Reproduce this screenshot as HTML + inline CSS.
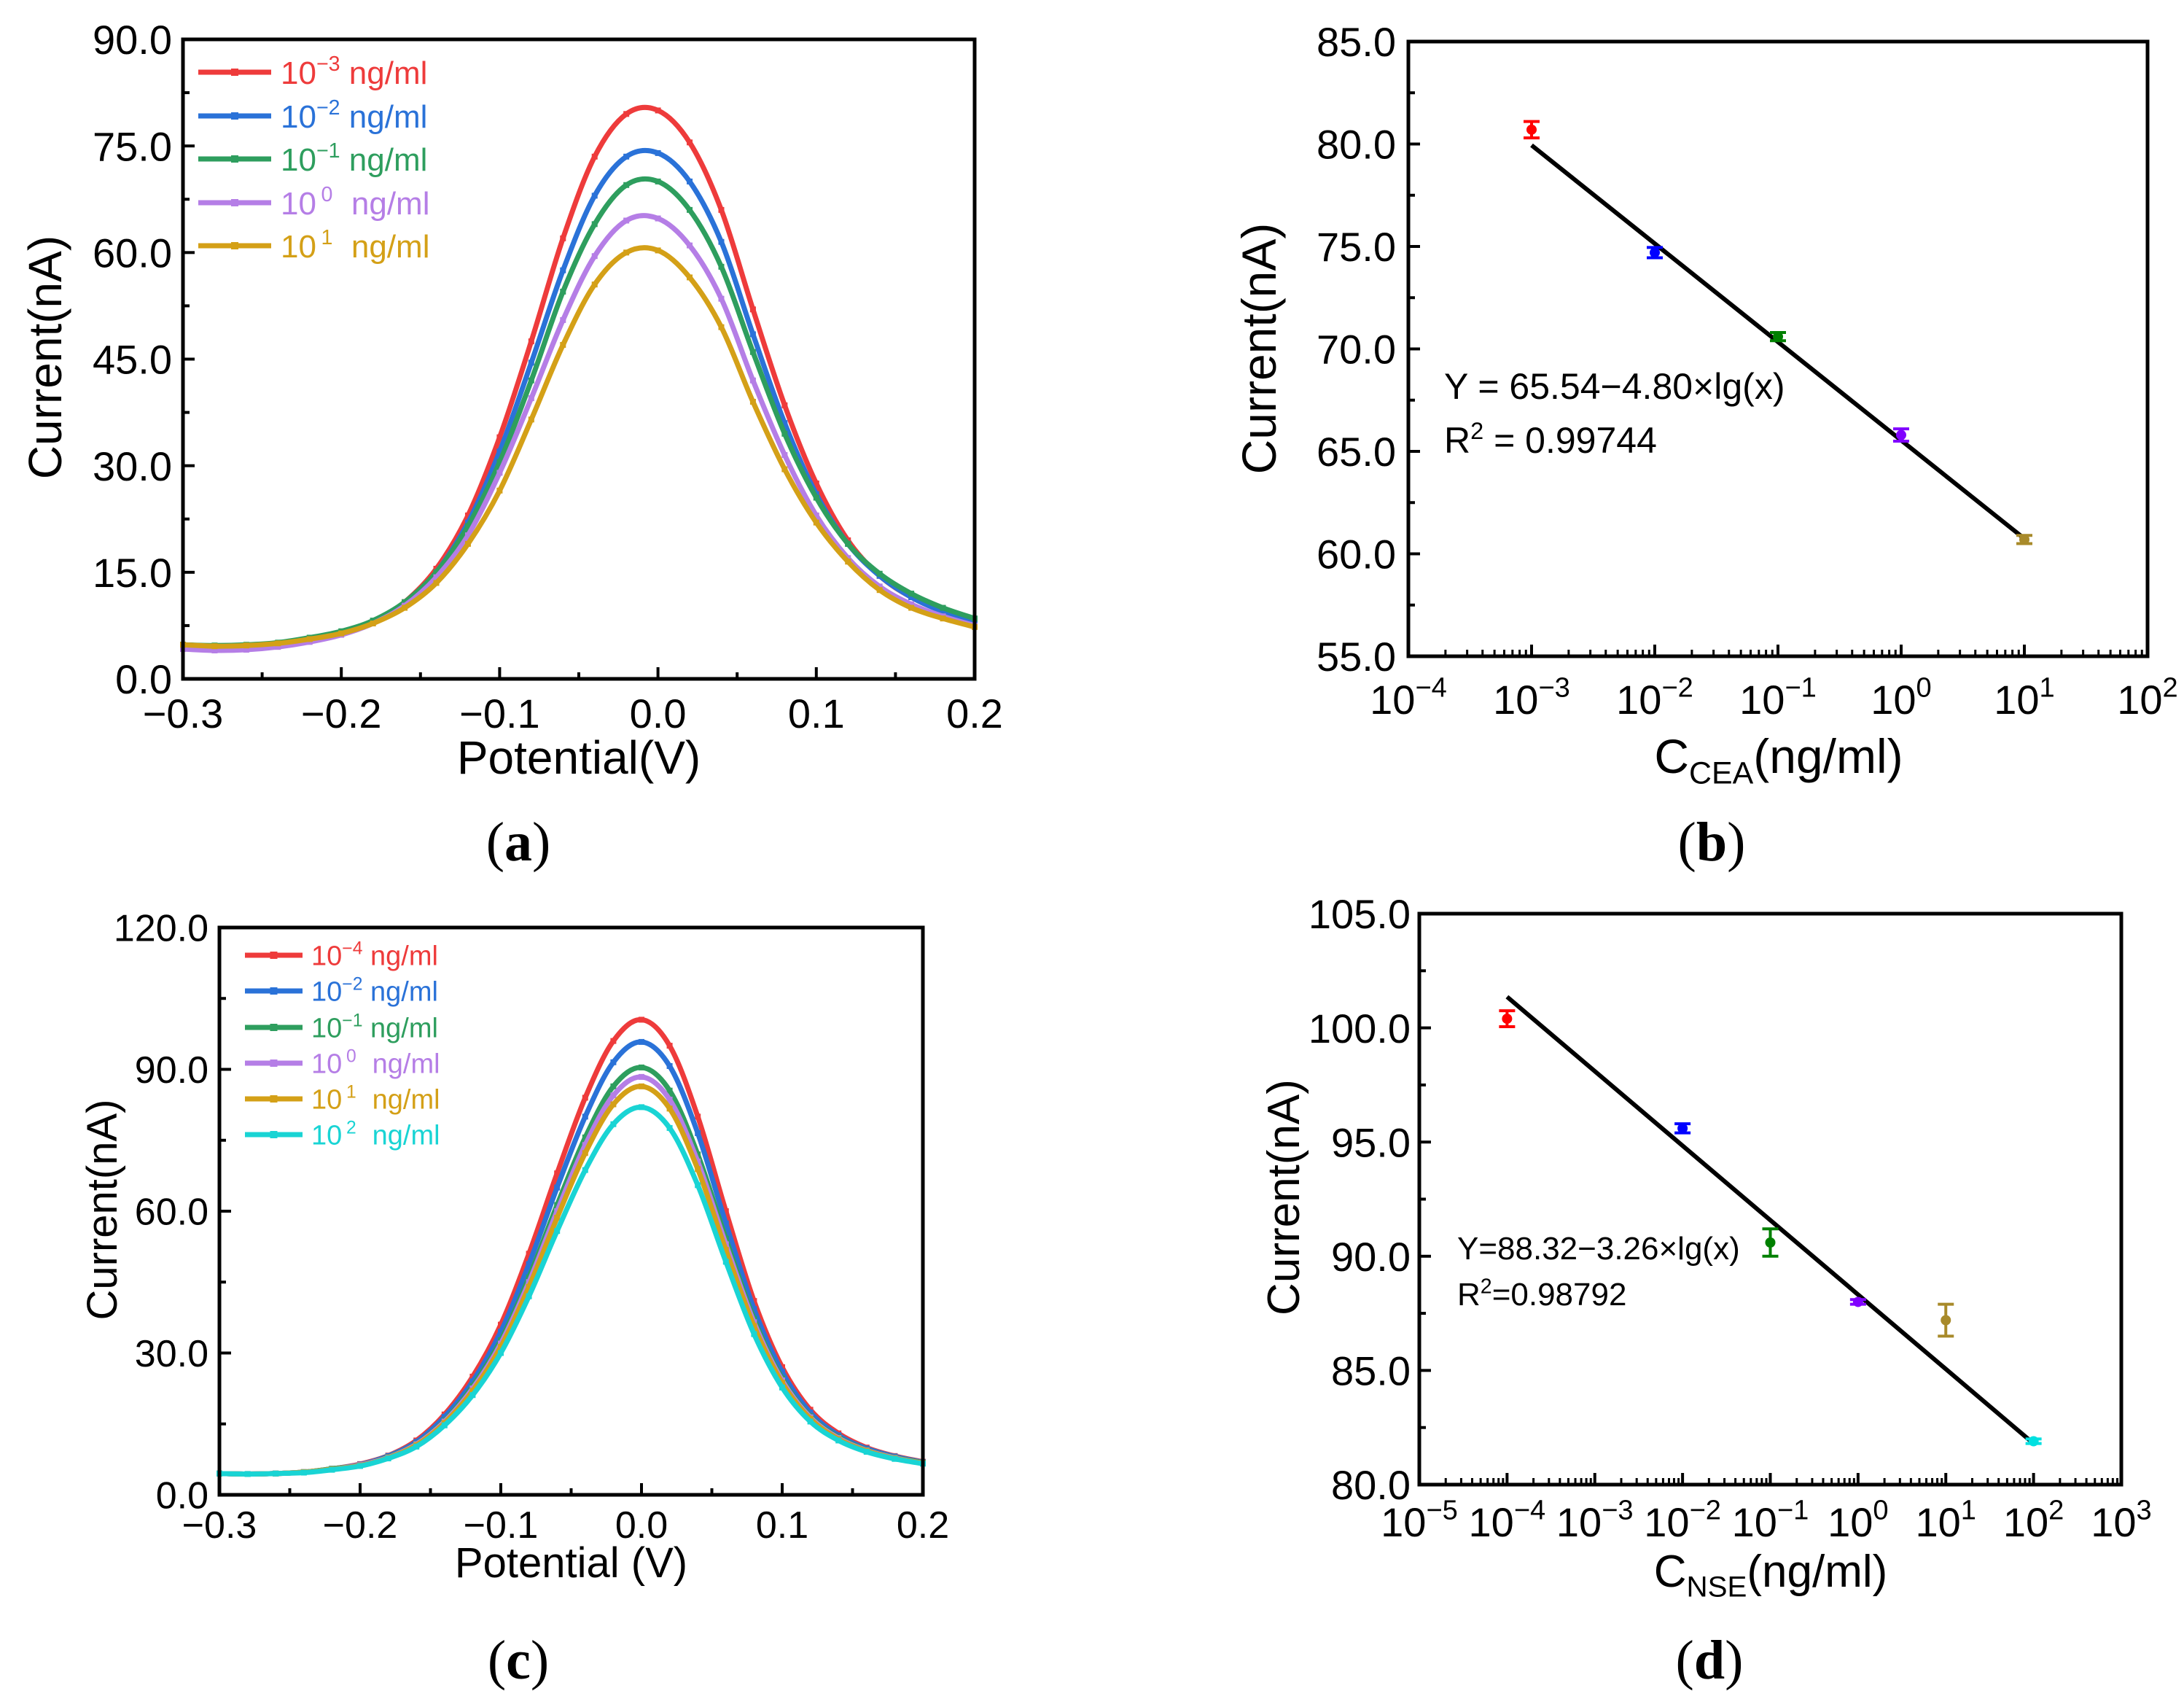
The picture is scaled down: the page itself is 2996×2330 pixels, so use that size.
<!DOCTYPE html>
<html><head><meta charset="utf-8"><style>
html,body{margin:0;padding:0;background:#fff;}
svg{display:block;}
text{font-family:"Liberation Sans",sans-serif;fill:#000;}
.cap{font-family:"Liberation Serif",serif;}
</style></head><body>
<svg id="fig" width="2996" height="2330" viewBox="0 0 2996 2330" xmlns="http://www.w3.org/2000/svg"></svg>
<script>
// ---------- data ----------
const potA = [-0.30,-0.28,-0.26,-0.24,-0.22,-0.20,-0.18,-0.16,-0.14,-0.12,-0.10,-0.08,-0.06,-0.04,-0.02,0.00,0.02,0.04,0.06,0.08,0.10,0.12,0.14,0.16,0.18,0.20];
const aRed = [4.8,4.6,4.7,5.0,5.6,6.5,8.0,10.8,15.5,23,34,47.5,62,73.5,79.5,80,75.5,66,52,38.5,27.5,19.5,14.5,11.5,9.5,8.0];
const aBlue = [4.8,4.6,4.7,5.0,5.6,6.5,8.0,10.6,15,22,32,44.5,57.5,68,73.5,74,70,61.5,48.5,36,26,19,14.5,11.5,9.5,8.2];
const aGreen = [4.8,4.7,4.8,5.1,5.8,6.7,8.2,10.8,15,21.5,30.5,42,54.5,64,69.5,70,66,58,46,34.5,25.5,19,14.8,12,10,8.5];
const aPurple = [4.2,4.0,4.1,4.5,5.2,6.2,7.8,10.3,14.3,20.2,29,39.5,50.5,59.5,64.5,64.8,61,53.5,42,31.5,23,17,13,10.5,8.8,7.5];
const aGold = [4.8,4.6,4.7,5.0,5.6,6.4,7.8,10.0,13.5,19,26.5,36.5,47,55.5,60,60.3,56.5,49.5,39,29.5,22,16.5,12.5,10,8.5,7.3];
const aLabels = ["−3","−2","−1","0","1"];

const potC = potA;
const cRed = [4.5,4.4,4.5,4.8,5.5,6.5,8.3,11.5,17,25,36,51,68,84,96,100.5,95,80,60,41,27,18,13,10,8.2,7.0];
const cBlue = [4.5,4.4,4.5,4.8,5.5,6.4,8.2,11.2,16.5,24,34.5,48.8,65,80,91.5,95.8,90.7,76.5,57.4,39.3,26,17.4,12.6,9.8,8.1,6.9];
const cGreen = [4.5,4.4,4.5,4.8,5.5,6.3,8.0,10.8,15.7,23,32.7,46,61.3,75.6,86.4,90.4,85.5,72,54.2,37.2,24.6,16.6,12.2,9.5,7.9,6.8];
const cPurple = [4.5,4.4,4.5,4.8,5.4,6.3,7.9,10.7,15.5,22.5,32,45,60,74,84.5,88.4,83.6,70.5,53,36.5,24.2,16.4,12,9.4,7.8,6.7];
const cGold = [4.5,4.4,4.5,4.8,5.4,6.2,7.8,10.5,15.2,22,31.3,44,58.6,72.3,82.6,86.4,81.7,68.9,51.8,35.7,23.7,16.1,11.8,9.3,7.7,6.7];
const cCyan = [4.5,4.4,4.5,4.7,5.3,6.1,7.7,10.2,14.7,21.1,30,42,55.8,68.7,78.4,82,77.6,65.5,49.3,34,22.7,15.5,11.5,9.1,7.6,6.6];
const cLabels = ["−4","−2","−1","0","1","2"];

const bConc = [1e-3,1e-2,1e-1,1,10];
const bCurrent = [80.7,74.7,70.6,65.8,60.7];
const bErr = [0.4,0.25,0.2,0.3,0.2];
const bIntercept = 65.54, bSlope = -4.80;
const dConc = [1e-4,1e-2,1e-1,1,10,100];
const dCurrent = [100.4,95.6,90.6,88.0,87.2,81.9];
const dErr = [0.35,0.2,0.6,0.1,0.7,0.1];
const dIntercept = 88.32, dSlope = -3.26;

const xTicksLin = [-0.3,-0.2,-0.1,0.0,0.1,0.2];
const aYTicks = [0,15,30,45,60,75,90];
const cYTicks = [0,30,60,90,120];
const bYTicks = [55,60,65,70,75,80,85];
const dYTicks = [80,85,90,95,100,105];
const bXExp = [-4,-3,-2,-1,0,1,2];
const dXExp = [-5,-4,-3,-2,-1,0,1,2,3];

// ---------- helpers ----------
const NS="http://www.w3.org/2000/svg";
const svg=document.getElementById('fig');
function mk(tag,attrs,parent){const e=document.createElementNS(NS,tag);for(const k in attrs)e.setAttribute(k,attrs[k]);(parent||svg).appendChild(e);return e;}
function grp(name){const g=mk('g',{});


return g;}
function txt(g,x,y,s,size,anchor,name){const t=mk('text',{x:x,y:y,'font-size':size,'text-anchor':anchor||'start'},g);t.textContent=s;


return t;}
function smoothPath(pts){let d='M'+pts[0][0]+','+pts[0][1];for(let i=0;i<pts.length-1;i++){const p0=pts[i-1]||pts[i],p1=pts[i],p2=pts[i+1],p3=pts[i+2]||p2;
const c1x=p1[0]+(p2[0]-p0[0])/6,c1y=p1[1]+(p2[1]-p0[1])/6,c2x=p2[0]-(p3[0]-p1[0])/6,c2y=p2[1]-(p3[1]-p1[1])/6;
d+=' C'+c1x.toFixed(1)+','+c1y.toFixed(1)+' '+c2x.toFixed(1)+','+c2y.toFixed(1)+' '+p2[0].toFixed(1)+','+p2[1].toFixed(1);}return d;}

function frame(g,L,R,T,B){const r=mk('rect',{x:L,y:T,width:R-L,height:B-T,fill:'none',stroke:'#000','stroke-width':5},g);

}

function linPanel(o){
  const g=grp(o.name);
  const X=v=>o.L+(v-o.x0)/(o.x1-o.x0)*(o.R-o.L);
  const Y=v=>o.B-(v-o.y0)/(o.y1-o.y0)*(o.B-o.T);
  xTicksLin.forEach((v,i)=>{mk('line',{x1:X(v),x2:X(v),y1:o.B,y2:o.B-16,stroke:'#000','stroke-width':4},g);
    if(i<xTicksLin.length-1){const m=X(v+0.05);mk('line',{x1:m,x2:m,y1:o.B,y2:o.B-9,stroke:'#000','stroke-width':4},g);}
    txt(g,X(v),o.xlb,(v<0?'−':'')+Math.abs(v).toFixed(1),o.fs,'middle','x-tick-label');});
  o.yt.forEach((v,i)=>{mk('line',{x1:o.L,x2:o.L+16,y1:Y(v),y2:Y(v),stroke:'#000','stroke-width':4},g);
    if(i<o.yt.length-1){const m=Y(v+(o.yt[1]-o.yt[0])/2);mk('line',{x1:o.L,x2:o.L+9,y1:m,y2:m,stroke:'#000','stroke-width':4},g);}
    txt(g,o.ylr,Y(v)+o.fs*0.36,v.toFixed(1),o.fs,'end','y-tick-label');});
  o.series.forEach((s,k)=>{const pts=o.xs.map((x,i)=>[X(x),Y(s.v[i])]);
    const p=mk('path',{d:smoothPath(pts),fill:'none',stroke:s.c,'stroke-width':7,'stroke-linejoin':'round'},g);
    
    
    pts.forEach(q=>mk('rect',{x:q[0]-4,y:q[1]-4,width:8,height:8,fill:s.c},g));
    const ly=o.leg.y[k];
    const ll=mk('line',{x1:o.leg.x1,x2:o.leg.x2,y1:ly,y2:ly,stroke:s.c,'stroke-width':7},g);
    
    
    mk('rect',{x:(o.leg.x1+o.leg.x2)/2-5,y:ly-5,width:10,height:10,fill:s.c},g);
    const t=mk('text',{x:o.leg.tx,y:ly+o.leg.fs*0.36,'font-size':o.leg.fs,fill:s.c},g);
    
    
    t.style.fill=s.c;
    const a=mk('tspan',{},t);a.textContent='10';
    const b=mk('tspan',{dy:-o.leg.fs*0.4,dx:s.e.length<2?o.leg.fs*0.15:0,'font-size':o.leg.fs*0.65},t);b.textContent=s.e;
    const c=mk('tspan',{dy:o.leg.fs*0.4,dx:s.e.length<2?o.leg.fs*0.3:0},t);c.textContent=' ng/ml';
  });
  frame(g,o.L,o.R,o.T,o.B);
  txt(g,(o.L+o.R)/2,o.xtb,o.xt,o.tfs,'middle','x-axis-title');
  const yt=txt(g,0,0,'Current(nA)',o.tfs,'middle','y-axis-title');
  yt.setAttribute('transform','translate('+o.ytx+','+o.yty+') rotate(-90)');
}

function logPanel(o){
  const g=grp(o.name);
  const X=v=>o.L+(Math.log10(v)-o.e0)/(o.e1-o.e0)*(o.R-o.L);
  const Y=v=>o.B-(v-o.y0)/(o.y1-o.y0)*(o.B-o.T);
  o.xe.forEach((e,i)=>{const x=X(Math.pow(10,e));mk('line',{x1:x,x2:x,y1:o.B,y2:o.B-16,stroke:'#000','stroke-width':4},g);
    if(i<o.xe.length-1){for(let m=2;m<=9;m++){const xm=X(m*Math.pow(10,e));mk('line',{x1:xm,x2:xm,y1:o.B,y2:o.B-9,stroke:'#000','stroke-width':3},g);}}
    const t=mk('text',{x:x,y:o.xlb,'font-size':o.fs,'text-anchor':'middle'},g);
    
    
    const a=mk('tspan',{},t);a.textContent='10';
    const b=mk('tspan',{dy:-o.fs*0.42,'font-size':o.fs*0.68},t);b.textContent=(e<0?'−':'')+Math.abs(e);});
  o.yt.forEach((v,i)=>{mk('line',{x1:o.L,x2:o.L+16,y1:Y(v),y2:Y(v),stroke:'#000','stroke-width':4},g);
    if(i<o.yt.length-1){const m=Y(v+2.5);mk('line',{x1:o.L,x2:o.L+9,y1:m,y2:m,stroke:'#000','stroke-width':4},g);}
    txt(g,o.ylr,Y(v)+o.fs*0.36,v.toFixed(1),o.fs,'end','y-tick-label');});
  const c0=o.conc[0],c1=o.conc[o.conc.length-1];
  const fl=mk('line',{x1:X(c0),y1:Y(o.ic+o.sl*Math.log10(c0)),x2:X(c1),y2:Y(o.ic+o.sl*Math.log10(c1)),stroke:'#000','stroke-width':6},g);
  
  
  o.conc.forEach((c,i)=>{const x=X(c),y=Y(o.cur[i]),yt=Y(o.cur[i]+o.err[i]),yb=Y(o.cur[i]-o.err[i]),col=o.cols[i];
    const eb=mk('g',{},g);
    
    
    mk('line',{x1:x,x2:x,y1:yt,y2:yb,stroke:col,'stroke-width':4},eb);
    mk('line',{x1:x-11,x2:x+11,y1:yt,y2:yt,stroke:col,'stroke-width':4},eb);
    mk('line',{x1:x-11,x2:x+11,y1:yb,y2:yb,stroke:col,'stroke-width':4},eb);
    mk('circle',{cx:x,cy:y,r:7,fill:col},eb);});
  frame(g,o.L,o.R,o.T,o.B);
  const t=mk('text',{x:o.eqx,y:o.eqy,'font-size':o.efs},g);t.textContent=o.eq;
  
  
  const r=mk('text',{x:o.eqx,y:o.r2y,'font-size':o.efs},g);
  
  
  const r1=mk('tspan',{},r);r1.textContent='R';const r2=mk('tspan',{dy:-o.efs*0.38,'font-size':o.efs*0.65},r);r2.textContent='2';
  const r3=mk('tspan',{dy:o.efs*0.38},r);r3.textContent=o.r2;
  const xt=mk('text',{x:o.xtx,y:o.xtb,'font-size':o.tfs,'text-anchor':'middle'},g);
  
  
  const a=mk('tspan',{},xt);a.textContent='C';const b=mk('tspan',{dy:o.tfs*0.22,'font-size':o.tfs*0.65},xt);b.textContent=o.sub;
  const c=mk('tspan',{dy:-o.tfs*0.22},xt);c.textContent='(ng/ml)';
  const yt=txt(g,0,0,'Current(nA)',o.tfs,'middle','y-axis-title');
  yt.setAttribute('transform','translate('+o.ytx+','+o.yty+') rotate(-90)');
}

// ---------- panels ----------
linPanel({name:'panel-a',L:251,R:1337,T:54,B:931,x0:-0.3,x1:0.2,y0:0,y1:90,yt:aYTicks,xs:potA,fs:56,tfs:64,
  xlb:998,ylr:236,xtb:1061,xt:'Potential(V)',ytx:84,yty:490,
  leg:{x1:272,x2:372,tx:385,fs:44,y:[99,159,218,278,337]},
  series:[{n:'red',c:'#ee3b3b',v:aRed,e:aLabels[0]},{n:'blue',c:'#2a72d8',v:aBlue,e:aLabels[1]},{n:'green',c:'#2e9e5e',v:aGreen,e:aLabels[2]},{n:'purple',c:'#b57ee6',v:aPurple,e:aLabels[3]},{n:'gold',c:'#d4a017',v:aGold,e:aLabels[4]}]});

linPanel({name:'panel-c',L:301,R:1266,T:1272,B:2050,x0:-0.3,x1:0.2,y0:0,y1:120,yt:cYTicks,xs:potC,fs:52,tfs:58,
  xlb:2109,ylr:286,xtb:2163,xt:'Potential (V)',ytx:160,yty:1659,
  leg:{x1:336,x2:415,tx:427,fs:38,y:[1310,1359,1409,1458,1507,1556]},
  series:[{n:'red',c:'#ee3b3b',v:cRed,e:cLabels[0]},{n:'blue',c:'#2a72d8',v:cBlue,e:cLabels[1]},{n:'green',c:'#2e9e5e',v:cGreen,e:cLabels[2]},{n:'purple',c:'#b57ee6',v:cPurple,e:cLabels[3]},{n:'gold',c:'#d4a017',v:cGold,e:cLabels[4]},{n:'cyan',c:'#19d4d4',v:cCyan,e:cLabels[5]}]});

logPanel({name:'panel-b',L:1932,R:2946,T:57,B:900,e0:-4,e1:2,y0:55,y1:85,yt:bYTicks,xe:bXExp,fs:56,tfs:66,efs:50,
  xlb:979,ylr:1915,conc:bConc,cur:bCurrent,err:bErr,ic:bIntercept,sl:bSlope,
  cols:['#ff0000','#0000ff','#008000','#8000ff','#a88a2a'],
  eq:'Y = 65.54−4.80×lg(x)',r2:' = 0.99744',eqx:1981,eqy:547,r2y:621,xtx:2440,xtb:1060,sub:'CEA',ytx:1750,yty:478});

logPanel({name:'panel-d',L:1947,R:2910,T:1253,B:2036,e0:-5,e1:3,y0:80,y1:105,yt:dYTicks,xe:dXExp,fs:56,tfs:62,efs:44,
  xlb:2107,ylr:1935,conc:dConc,cur:dCurrent,err:dErr,ic:dIntercept,sl:dSlope,
  cols:['#ff0000','#0000ff','#008000','#8000ff','#a88a2a','#00e0e0'],
  eq:'Y=88.32−3.26×lg(x)',r2:'=0.98792',eqx:1999,eqy:1727,r2y:1790,xtx:2429,xtb:2176,sub:'NSE',ytx:1782,yty:1642});

// captions
[['a',711,1180,'caption-a'],['b',2348,1180,'caption-b'],['c',711,2302,'caption-c'],['d',2345,2302,'caption-d']].forEach(c=>{
  const t=mk('text',{x:c[1],y:c[2],'font-size':76,'text-anchor':'middle','class':'cap'});
  
  
  const p1=mk('tspan',{},t);p1.textContent='(';
  const p2=mk('tspan',{'font-weight':'bold'},t);p2.textContent=c[0];
  const p3=mk('tspan',{},t);p3.textContent=')';});
</script>
</body></html>
